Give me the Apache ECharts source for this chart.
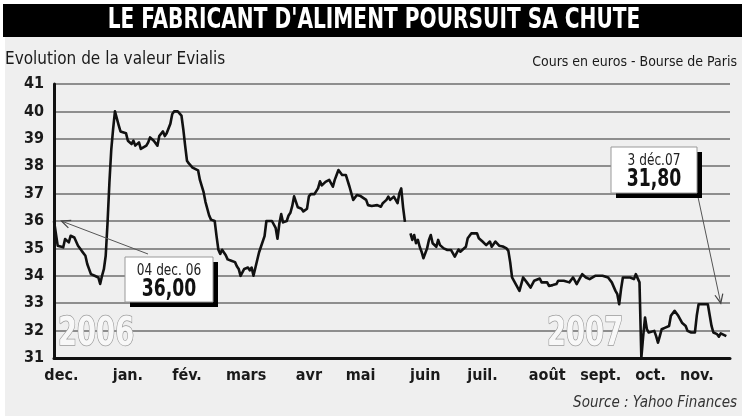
<!DOCTYPE html>
<html><head><meta charset="utf-8">
<script src="https://cdn.jsdelivr.net/npm/echarts@6/dist/echarts.min.js"></script>
<style>html,body{margin:0;padding:0;background:#fff}#c{width:747px;height:420px}</style>
</head><body><div id="c"></div>
<script>
// Trading day offsets counted from 4 Dec 2006, closing price in euros
const tradingDay = [
  0,2,3,5,6,8,9,11,13,15,17,18,20,22,24,25,26,27,28,29,30,31,32,33,35,36,37,39,40,42,43,44,46,47,48,50,51,52,54,55,56,57,59,60,61,63,64,65,67,69,70,71,72,
  73,75,76,78,79,81,82,84,85,87,88,89,90,91,93,94,96,98,99,100,101,103,105,106,107,108,109,111,112,113,114,115,116,118,119,120,121,122,123,124,126,127,128,129,130,131,132,134,135,137,138,139,141,142,143,144,145,146,
  147,148,149,151,152,153,154,156,157,158,160,161,162,164,165,166,167,169,170,172,173,175,177,178,180,181,182,184,185,186,187,188,189,190,191,
  193,194,195,196,197,198,199,200,202,203,204,205,207,208,209,211,212,213,215,216,217,219,220,221,223,224,226,227,229,230,232,233,234,236,237,239,240,
  241,243,244,245,246,247,248,249,250,252,253,254,255,256,258,259,260,261,263,264,265,267,268,269,270,272,273,274,276,277,279,280,281,282,283,285,286,287,288,290,291,
  293,295,297,298,300,302,304,305,306,307,308,310,311,312,314,315,316,317,318,319,320,321,322,323,325,326,327,328,329,331,333,334,336,337,338,340,342,343,345,347,348,349,352,354,355,356,357,359,360,361,362,364
];
const closePrice = [
  36.00,35.10,35.16,35.04,35.34,35.22,35.46,35.40,35.10,34.91,34.73,34.43,34.06,34.00,33.94,33.70,34.00,34.24,34.73,35.95,37.40,38.60,39.35,40.00,39.50,39.27,39.33,39.20,38.93,38.81,38.93,38.75,38.87,38.63,38.57,38.75,38.87,39.05,38.93,39.00,38.75,39.10,39.27,39.10,39.20,39.55,39.90,40.00,40.00,39.85,39.35,38.75,38.20,
  38.10,37.95,37.95,37.85,37.50,37.05,36.70,36.20,36.05,36.00,35.45,34.95,34.80,34.95,34.75,34.60,34.55,34.50,34.35,34.25,34.00,34.25,34.30,34.20,34.30,34.00,34.05,34.85,35.05,35.05,35.45,36.00,36.05,36.00,36.05,35.75,35.35,35.90,36.25,35.95,36.00,36.20,36.30,36.55,36.90,36.70,36.50,36.45,36.35,36.45,36.90,36.98,36.98,37.05,37.20,37.45,37.30,37.35,
  37.43,37.37,37.50,37.25,37.50,37.68,37.86,37.68,37.62,37.68,37.25,37.01,36.77,36.95,36.95,36.91,36.89,36.77,36.58,36.55,36.55,36.58,36.52,36.65,36.77,36.89,36.77,36.89,36.77,36.65,37.01,37.19,36.50,35.97,null,
  35.55,35.31,35.49,35.19,35.31,35.06,34.88,34.64,35.00,35.31,35.49,35.19,35.06,35.31,35.12,35.00,35.00,34.94,34.94,34.88,34.70,34.96,34.88,34.88,35.06,35.37,35.55,35.57,35.55,35.37,35.25,35.25,35.12,35.25,35.06,35.25,35.25,
  35.10,35.07,35.04,35.00,34.91,34.49,33.94,33.94,33.70,33.45,33.51,33.94,33.94,33.76,33.57,33.63,33.82,33.76,33.90,33.76,33.82,33.76,33.63,33.63,33.66,33.70,33.82,33.88,33.82,33.82,33.76,33.82,33.94,33.82,33.70,33.94,34.06,34.06,33.94,33.88,33.94,
  34.00,34.00,34.00,33.94,33.94,33.76,33.45,33.33,32.96,33.51,33.94,33.94,33.88,33.94,33.88,34.06,34.06,33.76,31.00,31.80,32.48,32.05,31.93,31.99,31.99,31.80,31.56,31.80,32.05,32.11,32.17,32.54,32.72,32.68,32.54,32.29,32.17,31.99,31.93,31.93,32.54,32.96,32.96,32.96,32.90,32.17,31.93,31.87,31.78,31.90,31.87,31.80
];
const monthLabels = ['dec.','jan.','fév.','mars','avr','mai','juin','juil.','août','sept.','oct.','nov.'];
const monthLabelDays = [4,40,72,104,138,166,201,232,267,296,323,348];
const yMin = 31, yMax = 41, yStep = 1;
const xMin = 0, xMax = 366;

const titleText = "LE FABRICANT D'ALIMENT POURSUIT SA CHUTE";
const subtitleText = 'Evolution de la valeur Evialis';
const unitText = 'Cours en euros - Bourse de Paris';
const sourceText = 'Source : Yahoo Finances';
const yearLabels = ['2006', '2007'];
const noteStart = {date: '04 dec. 06', value: '36,00', target: [4, 36.0]};
const noteEnd = {date: '3 déc.07', value: '31,80', target: [361, 33.0]};

const NARROW = "'Liberation Sans Narrow','DejaVu Sans Condensed','Arial Narrow',sans-serif";

const labelMap = {};
monthLabelDays.forEach((d, i) => { labelMap[d] = monthLabels[i]; });

const chart = echarts.init(document.getElementById('c'), null, {renderer: 'canvas'});
chart.setOption({
  animation: false,
  backgroundColor: '#ffffff',
  grid: {left: 54, right: 17, top: 84, bottom: 62, containLabel: false},
  xAxis: {
    type: 'value', min: xMin, max: xMax, interval: 1,
    axisLine: {show: true, onZero: false, lineStyle: {color: '#111', width: 3}},
    axisTick: {show: false},
    splitLine: {show: false},
    axisLabel: {
      show: true, margin: 10, color: '#1a1a1a', fontFamily: NARROW, fontWeight: 'bold', fontSize: 16,
      showMinLabel: false, showMaxLabel: false, hideOverlap: false,
      formatter: v => labelMap[v] || ''
    }
  },
  yAxis: {
    type: 'value', min: yMin, max: yMax, interval: yStep,
    axisLine: {show: true, lineStyle: {color: '#111', width: 3}},
    axisTick: {show: false},
    splitLine: {show: true, lineStyle: {color: '#8e8e8e', width: 2}},
    axisLabel: {margin: 10, color: '#1a1a1a', fontFamily: NARROW, fontWeight: 'bold', fontSize: 16}
  },
  series: [{
    type: 'line',
    data: tradingDay.map((d, i) => [d, closePrice[i]]),
    showSymbol: false, symbol: 'none',
    connectNulls: false,
    lineStyle: {color: '#111', width: 2.6, join: 'round'},
    z: 5
  }]
});

function txt(text, x, y, align, font, fill, sx, extra) {
  return Object.assign({
    type: 'text', x: x, y: y, scaleX: sx || 1,
    style: Object.assign({text: text, x: 0, y: 0, textAlign: align, textVerticalAlign: 'middle', align: align, verticalAlign: 'middle', fill: fill, font: font}, extra || {}),
    z: 23
  });
}
function arrow(from, to) {
  const dx = to[0] - from[0], dy = to[1] - from[1];
  const len = Math.sqrt(dx*dx + dy*dy), ux = dx/len, uy = dy/len;
  const ah = 9, aw = 4;
  const bx = to[0] - ux*ah, by = to[1] - uy*ah;
  return [
    {type: 'line', shape: {x1: from[0], y1: from[1], x2: to[0], y2: to[1]}, style: {stroke: '#555', lineWidth: 1}, z: 20},
    {type: 'polyline', shape: {points: [[bx - uy*aw, by + ux*aw], to, [bx + uy*aw, by - ux*aw]]}, style: {stroke: '#444', lineWidth: 1.2, fill: null}, z: 20}
  ];
}
function noteBox(x, y, w, h, note) {
  return [
    {type: 'rect', shape: {x: x + 5, y: y + 5, width: w, height: h}, style: {fill: '#000'}, z: 21},
    {type: 'rect', shape: {x: x, y: y, width: w, height: h}, style: {fill: '#fff', stroke: '#999', lineWidth: 1}, z: 22},
    txt(note.date, x + w/2, y + 14, 'center', '15px ' + NARROW, '#222', 0.9),
    txt(note.value, x + w/2, y + 33, 'center', 'bold 24px ' + NARROW, '#111', 0.8)
  ];
}

const t1 = chart.convertToPixel({gridIndex: 0}, noteStart.target);
const t2 = chart.convertToPixel({gridIndex: 0}, noteEnd.target);
const yearStyle = {stroke: '#9a9a9a', lineWidth: 1.5};

const graphics = [
  {type: 'rect', shape: {x: 5, y: 36, width: 737, height: 380}, style: {fill: '#efefef'}, z: -10, silent: true},
  {type: 'rect', shape: {x: 3, y: 4, width: 739, height: 33}, style: {fill: '#000'}, z: 1},
  txt(titleText, 374, 21, 'center', 'bold 28px ' + NARROW, '#fff', 0.8),
  txt(subtitleText, 5, 60, 'left', '17px ' + NARROW, '#1a1a1a', 1),
  txt(unitText, 737, 62, 'right', '14px ' + NARROW, '#1a1a1a', 1),
  txt(sourceText, 737, 403, 'right', 'italic 15px ' + NARROW, '#333', 1),
  txt(yearLabels[0], 58, 335, 'left', 'bold 39px ' + NARROW, '#f8f8f8', 0.78, yearStyle),
  txt(yearLabels[1], 547, 335, 'left', 'bold 39px ' + NARROW, '#f8f8f8', 0.78, yearStyle)
].concat(
  arrow([148, 254], t1),
  noteBox(125, 257, 88, 45, noteStart),
  arrow([698, 197], t2),
  noteBox(611, 147, 86, 46, noteEnd)
);
chart.setOption({graphic: {elements: graphics}});
</script></body></html>
